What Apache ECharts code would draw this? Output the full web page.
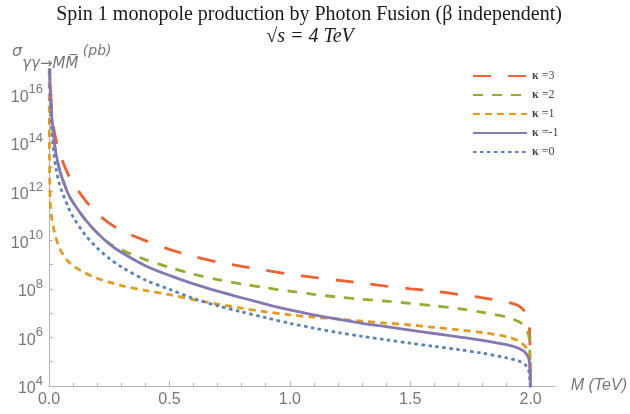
<!DOCTYPE html>
<html>
<head>
<meta charset="utf-8">
<script src="https://cdn.jsdelivr.net/npm/echarts@6/dist/echarts.min.js"></script>
<style>
  html, body { margin: 0; padding: 0; background: #fff; }
  #main { width: 630px; height: 414px; }
</style>
</head>
<body>
<div id="main"></div>
<script>
// monopole pair production, sigma in pb given as log10 values, M in TeV
var massTeV = [0.0005, 0.001, 0.002, 0.003, 0.005, 0.01, 0.02, 0.03, 0.045, 0.06, 0.08, 0.1, 0.15, 0.2, 0.25, 0.3,
  0.4, 0.5, 0.6, 0.7, 0.8, 0.9, 1.0, 1.1, 1.2, 1.3, 1.4, 1.5, 1.6, 1.7, 1.8, 1.9, 1.95, 1.98, 1.995, 2.0]
var logK3 = [19, 18.5, 17.5, 17.0, 16.3, 15.6, 14.6, 14.1, 13.6, 13.15, 12.7, 12.35, 11.65, 11.1, 10.7, 10.4,
  9.98, 9.62, 9.33, 9.1, 8.92, 8.76, 8.6, 8.47, 8.35, 8.23, 8.11, 8.0, 7.9, 7.77, 7.63, 7.45, 7.3, 7.0, 6.4, 3]
var logK2 = [19.5, 18.5, 17.6, 17.0, 16.3, 15.3, 14.2, 13.5, 12.85, 12.4, 11.9, 11.55, 10.85, 10.3, 9.87, 9.6,
  9.2, 8.88, 8.6, 8.38, 8.2, 8.04, 7.9, 7.77, 7.66, 7.57, 7.49, 7.4, 7.3, 7.18, 7.03, 6.84, 6.65, 6.4, 5.9, 3]
var logK1 = [17.5, 15.5, 13.5, 12.5, 11.6, 11.0, 10.45, 10.05, 9.65, 9.38, 9.12, 8.95, 8.65, 8.43, 8.27, 8.13,
  7.93, 7.76, 7.55, 7.37, 7.2, 7.05, 6.93, 6.83, 6.75, 6.67, 6.59, 6.51, 6.41, 6.31, 6.2, 6.03, 5.85, 5.6, 5.2, 3]
var logKm1 = [19.5, 18.5, 17.6, 17.0, 16.3, 15.3, 14.2, 13.5, 12.85, 12.4, 11.9, 11.55, 10.85, 10.3, 9.85, 9.5,
  8.95, 8.55, 8.2, 7.9, 7.63, 7.37, 7.13, 6.93, 6.75, 6.58, 6.44, 6.3, 6.16, 6.02, 5.88, 5.7, 5.55, 5.35, 5.0, 3]
var logK0 = [19, 18, 17.2, 16.7, 15.9, 14.8, 13.6, 12.9, 12.25, 11.85, 11.35, 10.96, 10.22, 9.68, 9.25, 8.9,
  8.36, 7.98, 7.6, 7.3, 7.05, 6.81, 6.58, 6.38, 6.2, 6.04, 5.9, 5.76, 5.63, 5.5, 5.35, 5.16, 5.03, 4.85, 4.5, 3]

var xLabelValues = [0, 0.5, 1.0, 1.5, 2.0]
var xMinorValues = [0, 0.1, 0.2, 0.3, 0.4, 0.5, 0.6, 0.7, 0.8, 0.9, 1.0, 1.1, 1.2, 1.3, 1.4, 1.5, 1.6, 1.7, 1.8, 1.9, 2.0]
var yLabelExps = [4, 6, 8, 10, 12, 14, 16]
var yTickExps = [4, 5, 6, 7, 8, 9, 10, 11, 12, 13, 14, 15, 16]

var seriesNames = ['κ =3', 'κ =2', 'κ =1', 'κ =-1', 'κ =0']
var seriesLogs = [logK3, logK2, logK1, logKm1, logK0]
var seriesColors = ['#EB6235', '#8FB032', '#E19C24', '#8778B3', '#5E81B5']
var seriesDash = [[18, 17], [10, 9], [7, 5], 'solid', [3.5, 3.5]]

var gray = '#777'
var axisGray = '#b4b4b4'

function pow10 (list) {
  return list.map(function (e) { return Math.pow(10, e) })
}

var series = seriesNames.map(function (name, i) {
  var ys = pow10(seriesLogs[i])
  return {
    name: name,
    type: 'line',
    symbol: 'none',
    clip: true,
    smooth: 0.3,
    z: i === 3 ? 5 : 3,
    data: massTeV.map(function (m, j) { return [m, ys[j]] }),
    itemStyle: { color: seriesColors[i] },
    lineStyle: {
      color: seriesColors[i],
      width: 2.8,
      type: seriesDash[i],
      cap: 'butt'
    }
  }
})

var option = {
  backgroundColor: '#fff',
  animation: false,
  title: [
    {
      text: 'Spin 1 monopole production by Photon Fusion (β independent)',
      left: 304,
      textAlign: 'center',
      top: 0,
      textStyle: { fontFamily: 'Liberation Serif', fontWeight: 'normal', fontSize: 20, color: '#1a1a1a' }
    },
    {
      text: '{r|√}{i|s = 4 TeV}',
      left: 305,
      textAlign: 'center',
      top: 22,
      textStyle: {
        fontWeight: 'normal',
        rich: {
          r: { fontFamily: 'Liberation Serif', fontWeight: 'normal', fontSize: 20, color: '#1a1a1a' },
          i: { fontFamily: 'Liberation Serif', fontWeight: 'normal', fontStyle: 'italic', fontSize: 20, color: '#1a1a1a' }
        }
      }
    }
  ],
  graphic: [
    {
      type: 'text',
      left: 12,
      top: 44,
      style: {
        text: '{s|σ}{sub|γγ→MM\u0305}{p| (pb)}',
        rich: {
          s: { fontFamily: 'DejaVu Sans', fontStyle: 'italic', fontSize: 16, fill: gray, lineHeight: 28, verticalAlign: 'top' },
          sub: { fontFamily: 'DejaVu Sans', fontStyle: 'italic', fontSize: 15, fill: gray, lineHeight: 28, verticalAlign: 'bottom' },
          p: { fontFamily: 'DejaVu Sans', fontStyle: 'italic', fontSize: 14, fill: gray, lineHeight: 28, verticalAlign: 'top' }
        }
      }
    }
  ],
  legend: {
    orient: 'vertical',
    left: 467,
    top: 65,
    itemWidth: 54,
    itemHeight: 10,
    itemGap: 7,
    data: seriesNames,
    itemStyle: { opacity: 0 },
    formatter: function (name) {
      return '{k|κ}{t|' + name.slice(1) + '}'
    },
    textStyle: {
      rich: {
        k: { fontFamily: 'Liberation Serif', fontWeight: 'bold', fontSize: 12, color: '#444' },
        t: { fontFamily: 'Liberation Serif', fontSize: 12, color: '#444' }
      }
    }
  },
  grid: { left: 49, right: 73, top: 70, bottom: 28, containLabel: false },
  xAxis: [
    {
      type: 'value',
      min: 0,
      max: 2.1,
      name: 'M (TeV)',
      nameLocation: 'end',
      nameGap: 16,
      nameTextStyle: { fontFamily: 'Liberation Sans', fontStyle: 'italic', fontSize: 16, color: gray },
      axisLine: { show: true, lineStyle: { color: axisGray, width: 1 } },
      axisTick: { show: true, inside: true, length: 3, customValues: xMinorValues, lineStyle: { color: axisGray } },
      axisLabel: {
        customValues: xLabelValues,
        margin: 6,
        fontFamily: 'Liberation Sans',
        fontSize: 16,
        color: gray,
        formatter: function (v) { return v.toFixed(1) }
      },
      splitLine: { show: false }
    },
    {
      type: 'value',
      min: 0,
      max: 2.1,
      position: 'bottom',
      axisLine: { show: false },
      axisTick: { show: true, inside: true, length: 5, customValues: xLabelValues, lineStyle: { color: axisGray } },
      axisLabel: { show: false },
      splitLine: { show: false }
    }
  ],
  yAxis: {
    type: 'log',
    logBase: 10,
    min: 1e4,
    max: 1e17,
    axisLine: { show: true, lineStyle: { color: axisGray, width: 1 } },
    axisTick: { show: true, inside: true, length: 4, customValues: pow10(yTickExps), lineStyle: { color: axisGray } },
    axisLabel: {
      customValues: pow10(yLabelExps),
      margin: 6,
      formatter: function (v) {
        return '{b|10}{s|' + Math.round(Math.log10(v)) + '}'
      },
      rich: {
        b: { fontFamily: 'Liberation Sans', fontSize: 16, color: gray, lineHeight: 22, verticalAlign: 'bottom' },
        s: { fontFamily: 'Liberation Sans', fontSize: 13, color: gray, lineHeight: 22, verticalAlign: 'top' }
      }
    },
    splitLine: { show: false }
  },
  series: series
}

var chart = echarts.init(document.getElementById('main'))
chart.setOption(option)
</script>
</body>
</html>
